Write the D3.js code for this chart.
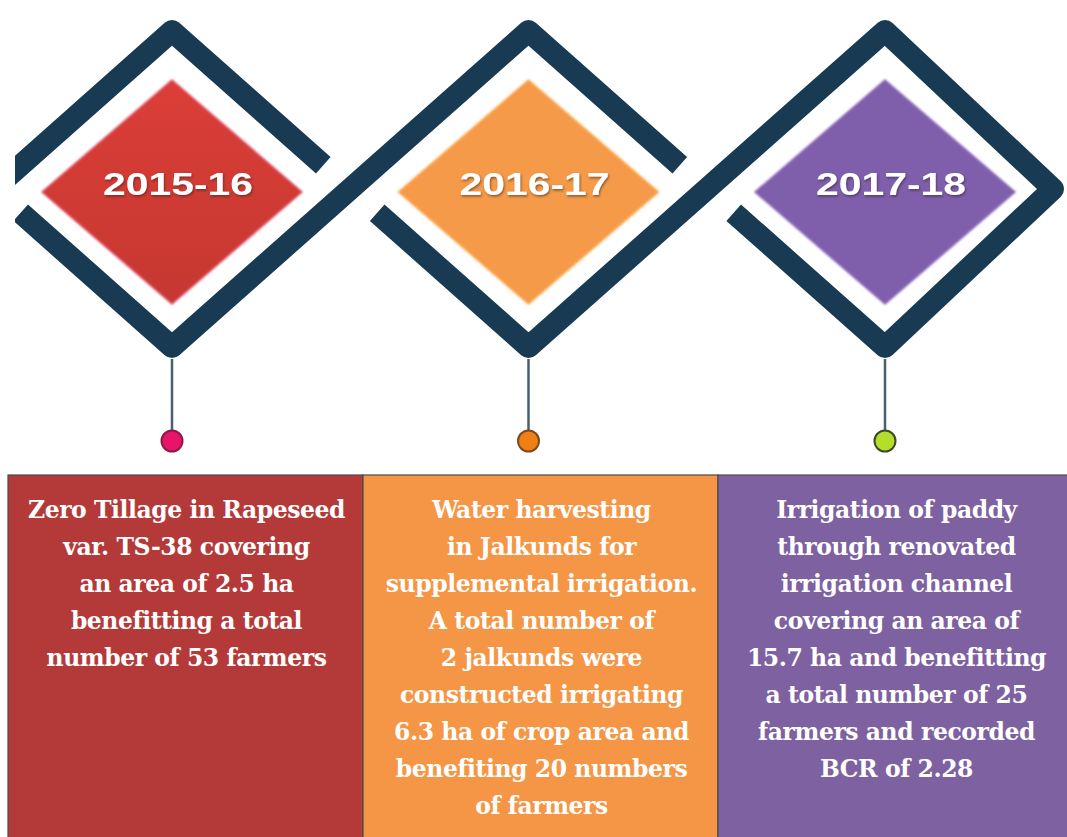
<!DOCTYPE html>
<html>
<head>
<meta charset="utf-8">
<script src="https://cdn.jsdelivr.net/npm/d3@7"></script>
<style>
  html, body { margin: 0; padding: 0; background: #ffffff; }
  svg { display: block; }
</style>
</head>
<body>
<svg id="chart" width="1067" height="837"></svg>
<script>
// ---------- data ----------
const periods = ["2015-16", "2016-17", "2017-18"];

const descriptions = [
  ["Zero Tillage in Rapeseed", "var. TS-38 covering", "an area of 2.5 ha", "benefitting a total", "number of 53 farmers"],
  ["Water harvesting", "in Jalkunds for", "supplemental irrigation.", "A total number of", "2 jalkunds were",
   "constructed irrigating", "6.3 ha of crop area and", "benefiting 20 numbers", "of farmers"],
  ["Irrigation of paddy", "through renovated", "irrigation channel", "covering an area of",
   "15.7 ha and benefitting", "a total number of 25", "farmers and recorded", "BCR of 2.28"]
];

// ---------- styles ----------
const diamondFill = ["#cc3a33", "#f59a48", "#7f5fab"];
const panelFill   = ["#b33a39", "#f59646", "#7e61a0"];
const dotFill     = ["#e8136b", "#f07f14", "#b3df2a"];
const dotStroke   = ["#8c1a45", "#7a4a22", "#3c4a2a"];
const chainColor  = "#183a52";

const W = 1067, H = 837;
const svg = d3.select("#chart");

// ---------- scales ----------
const xDiamond = d3.scalePoint().domain(periods).range([172, 885]);
const xPanel = d3.scaleBand().domain(periods).range([8, 1073]).padding(0);

const cy = 189, hw = 178, hh = 158, gap = 0.15;

const defs = svg.append("defs");
defs.append("clipPath").attr("id", "clipChain")
  .append("rect").attr("x", 15).attr("y", 0).attr("width", W - 15).attr("height", H);

const shadow = defs.append("filter").attr("id", "txtShadow")
  .attr("x", "-20%").attr("y", "-40%").attr("width", "140%").attr("height", "180%");
shadow.append("feDropShadow").attr("dx", 1).attr("dy", 1.5).attr("stdDeviation", 1)
  .attr("flood-color", "#2a1a1a").attr("flood-opacity", 0.55);

const soft = defs.append("filter").attr("id", "softEdge")
  .attr("x", "-10%").attr("y", "-10%").attr("width", "120%").attr("height", "120%");
soft.append("feGaussianBlur").attr("stdDeviation", 1.2);

periods.forEach((p, i) => {
  const base = d3.color(diamondFill[i]);
  const g = defs.append("linearGradient").attr("id", "grad" + i)
    .attr("x1", 0).attr("y1", 0).attr("x2", 0).attr("y2", 1);
  g.append("stop").attr("offset", "0%").attr("stop-color", i === 0 ? base.brighter(0.2) : base);
  g.append("stop").attr("offset", "100%").attr("stop-color", i === 0 ? base.darker(0.1) : base);
});

// ---------- chain geometry ----------
const pts = periods.map((p) => {
  const cx = xDiamond(p);
  const rx = Math.min(cx + hw, W - 14);
  return { T: [cx, cy - hh], B: [cx, cy + hh], L: [cx - hw, cy], R: [rx, cy] };
});
const lerp = (a, b, t) => [a[0] + (b[0] - a[0]) * t, a[1] + (b[1] - a[1]) * t];
const n = periods.length;
const chains = [];
chains.push([pts[0].L, pts[0].T, lerp(pts[0].T, pts[0].R, 1 - gap)]);
for (let i = 0; i < n - 1; i++) {
  const a = pts[i], b = pts[i + 1];
  if (i < n - 2) {
    chains.push([lerp(a.L, a.B, gap), a.B, b.T, lerp(b.T, b.R, 1 - gap)]);
  } else {
    chains.push([lerp(a.L, a.B, gap), a.B, b.T, b.R, b.B, lerp(b.L, b.B, gap)]);
  }
}
const line = d3.line();

const chainG = svg.append("g").attr("clip-path", "url(#clipChain)");
chainG.selectAll("path.chain").data(chains).join("path")
  .attr("class", "chain")
  .attr("d", line)
  .attr("fill", "none")
  .attr("stroke", chainColor)
  .attr("stroke-width", 22)
  .attr("stroke-linejoin", "round")
  .attr("stroke-linecap", "butt");

// ---------- pins ----------
const pinTop = cy + hh + 12, dotY = 441;
svg.selectAll("line.pin").data(periods).join("line")
  .attr("class", "pin")
  .attr("x1", d => xDiamond(d)).attr("x2", d => xDiamond(d))
  .attr("y1", pinTop).attr("y2", dotY)
  .attr("stroke", "#46606f").attr("stroke-width", 2.5);
svg.selectAll("circle.dot").data(periods).join("circle")
  .attr("class", "dot")
  .attr("cx", d => xDiamond(d)).attr("cy", dotY).attr("r", 10.5)
  .attr("fill", (d, i) => dotFill[i])
  .attr("stroke", (d, i) => dotStroke[i]).attr("stroke-width", 2);

// ---------- inner diamonds ----------
const dcy = 192, dhw = 130, dhh = 112;
const dg = svg.selectAll("g.dia").data(periods).join("g").attr("class", "dia");
dg.append("path")
  .attr("d", d => {
    const cx = xDiamond(d);
    return line([[cx, dcy - dhh], [cx + dhw, dcy], [cx, dcy + dhh], [cx - dhw, dcy]]) + "Z";
  })
  .attr("fill", (d, i) => "url(#grad" + i + ")")
  .attr("stroke", (d, i) => i === 0 ? "#e0556a" : d3.color(diamondFill[i]).brighter(0.3))
  .attr("stroke-width", 1.5)
  .attr("filter", "url(#softEdge)");
dg.append("path")
  .attr("d", d => {
    const cx = xDiamond(d);
    return line([[cx, dcy - dhh + 3], [cx + dhw - 4, dcy], [cx, dcy + dhh - 3], [cx - dhw + 4, dcy]]) + "Z";
  })
  .attr("fill", (d, i) => "url(#grad" + i + ")");

dg.append("text")
  .attr("x", d => xDiamond(d) + 6)
  .attr("y", 195)
  .attr("text-anchor", "middle")
  .attr("font-family", "'Liberation Sans', Arial, sans-serif")
  .attr("font-weight", "bold")
  .attr("font-size", 32)
  .attr("textLength", 150)
  .attr("lengthAdjust", "spacingAndGlyphs")
  .attr("fill", "#ffffff")
  .attr("filter", "url(#txtShadow)")
  .text(d => d);

// ---------- panels ----------
const panelTop = 475;
const pg = svg.selectAll("g.panel").data(periods).join("g").attr("class", "panel");
pg.append("rect")
  .attr("x", d => xPanel(d))
  .attr("y", panelTop)
  .attr("width", xPanel.bandwidth())
  .attr("height", H - panelTop + 5)
  .attr("fill", (d, i) => panelFill[i])
  .attr("stroke", "#4a4a4a")
  .attr("stroke-width", 1.2);

const lineStep = 37, firstBase = 518;
pg.append("text")
  .attr("text-anchor", "middle")
  .attr("font-family", "'DejaVu Serif', serif")
  .attr("font-weight", "bold")
  .attr("font-size", 23.5)
  .attr("letter-spacing", -0.45)
  .attr("fill", "#ffffff")
  .each(function(d, i) {
    const t = d3.select(this);
    const cx = xPanel(d) + xPanel.bandwidth() / 2 + 1;
    descriptions[i].forEach((ln, k) => {
      t.append("tspan").attr("x", cx).attr("y", firstBase + k * lineStep).text(ln);
    });
  });
</script>
</body>
</html>
